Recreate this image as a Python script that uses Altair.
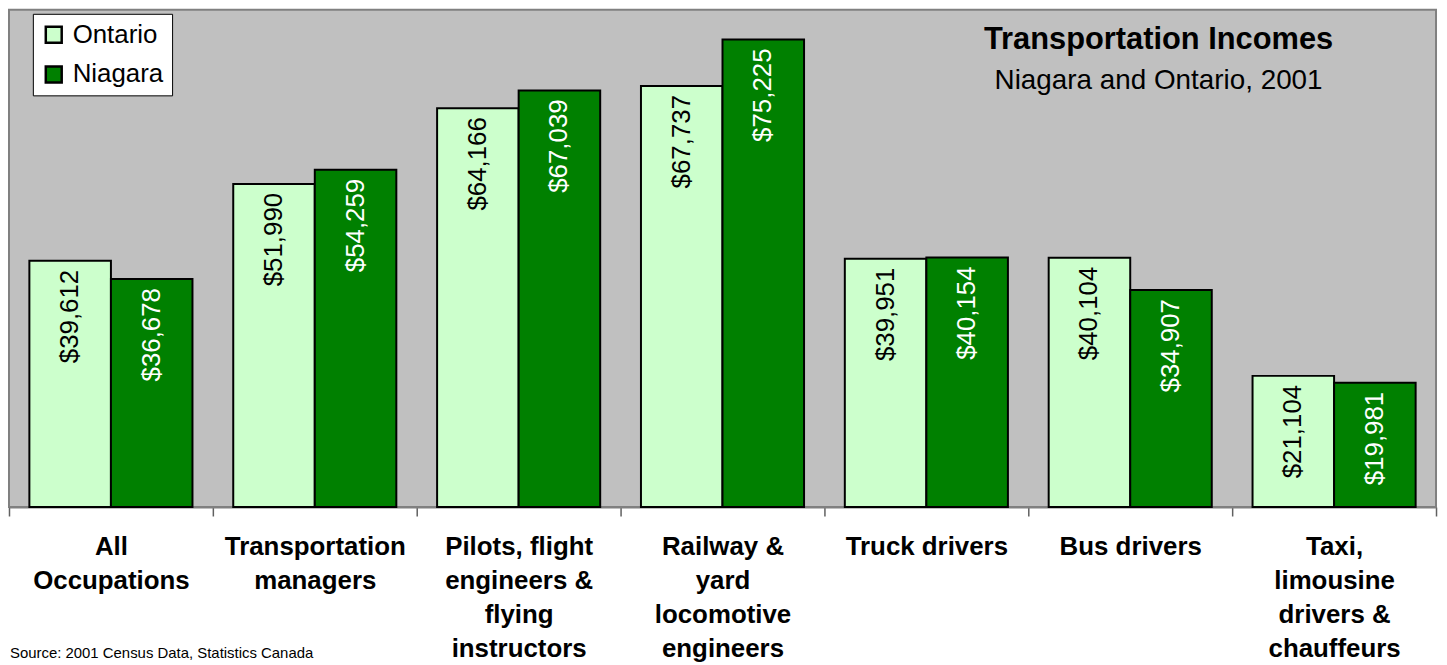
import altair as alt
import pandas as pd

categories = [
    "All\nOccupations",
    "Transportation\nmanagers",
    "Pilots, flight\nengineers &\nflying\ninstructors",
    "Railway &\nyard\nlocomotive\nengineers",
    "Truck drivers",
    "Bus drivers",
    "Taxi,\nlimousine\ndrivers &\nchauffeurs",
]
series = ["Ontario", "Niagara"]
ontario = [39612, 51990, 64166, 67737, 39951, 40104, 21104]
niagara = [36678, 54259, 67039, 75225, 40154, 34907, 19981]
colors = ["#CCFFCC", "#008000"]
title_text = "Transportation Incomes"
subtitle_text = "Niagara and Ontario, 2001"
source_text = "Source: 2001 Census  Data, Statistics Canada"

rows = []
for i, c in enumerate(categories):
    rows.append({"category": c, "series": "Ontario", "income": ontario[i]})
    rows.append({"category": c, "series": "Niagara", "income": niagara[i]})
df = pd.DataFrame(rows)

FONT = "Liberation Sans"

x_enc = alt.X(
    "category:N",
    sort=categories,
    scale=alt.Scale(paddingInner=0, paddingOuter=0),
    axis=alt.Axis(
        title=None,
        labelAngle=0,
        labelExpr="split(datum.label, '\\n')",
        labelFont=FONT,
        labelFontSize=26,
        labelFontWeight="bold",
        labelColor="black",
        labelLineHeight=34,
        labelBaseline="alphabetic",
        labelPadding=39,
        labelLimit=400,
        tickBand="extent",
        tickSize=9,
        tickColor="#606060",
        tickWidth=1.5,
        domainColor="#808080",
        domainWidth=2,
        grid=False,
    ),
)
xoff_enc = alt.XOffset(
    "series:N", sort=series,
    scale=alt.Scale(domain=series, paddingInner=0, paddingOuter=0.25),
)
y_enc = alt.Y("income:Q", scale=alt.Scale(domain=[0, 80000]), axis=None)

bars = alt.Chart(df).mark_bar(stroke="black", strokeWidth=2).encode(
    x=x_enc,
    xOffset=xoff_enc,
    y=y_enc,
    color=alt.Color(
        "series:N",
        sort=series,
        scale=alt.Scale(domain=series, range=colors),
        legend=alt.Legend(
            title=None,
            orient="none",
            legendX=24,
            legendY=4,
            direction="vertical",
            fillColor="white",
            strokeColor="black",
            padding=8,
            symbolType="square",
            symbolSize=256,
            symbolStrokeColor="black",
            symbolStrokeWidth=2.5,
            symbolOpacity=1,
            labelFont=FONT,
            labelFontSize=26,
            labelColor="black",
            labelOffset=6,
            rowPadding=14,
        ),
    ),
)


def value_labels(name, col):
    return alt.Chart(df).transform_filter(alt.datum.series == name).mark_text(
        angle=270, align="right", baseline="middle", dx=-9,
        font=FONT, fontSize=26, color=col,
    ).encode(
        x=x_enc,
        xOffset=xoff_enc,
        y=y_enc,
        text=alt.Text("income:Q", format="$,.0f"),
    )


lab_ont = value_labels("Ontario", "black")
lab_nia = value_labels("Niagara", "white")

one = alt.Data(values=[{}])
title_layer = alt.Chart(one).mark_text(
    text=title_text, font=FONT, fontSize=31, fontWeight="bold",
    align="center", baseline="alphabetic", color="black",
).encode(x=alt.value(1156), y=alt.value(39))
subtitle_layer = alt.Chart(one).mark_text(
    text=subtitle_text, font=FONT, fontSize=28,
    align="center", baseline="alphabetic", color="black",
).encode(x=alt.value(1156), y=alt.value(80))
source_layer = alt.Chart(one).mark_text(
    text=source_text, font=FONT, fontSize=15,
    align="left", baseline="alphabetic", color="black",
).encode(x=alt.value(1), y=alt.value(652))

chart = alt.layer(
    bars, lab_ont, lab_nia, title_layer, subtitle_layer, source_layer
).properties(
    width=1435,
    height=500,
    autosize=alt.AutoSizeParams(type="none"),
    padding={"left": 1, "top": 0, "right": 3, "bottom": 157},
    background="white",
).configure(font=FONT).configure_view(
    fill="#C0C0C0", stroke="#808080", strokeWidth=2
)

chart.save("out.html", embed_options={"renderer": "svg", "actions": False})
